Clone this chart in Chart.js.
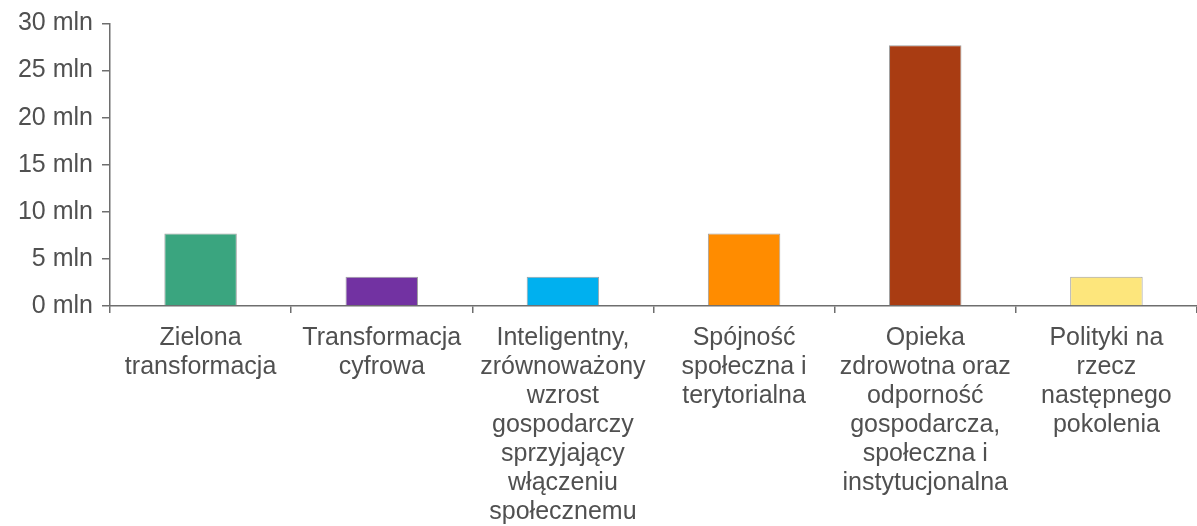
<!DOCTYPE html>
<html>
<head>
<meta charset="utf-8">
<script src="https://cdn.jsdelivr.net/npm/chart.js@4/dist/chart.umd.min.js"></script>
<style>
  html, body { margin: 0; padding: 0; background: #fff; }
  #wrap { width: 1197px; height: 526px; }
</style>
</head>
<body>
<div id="wrap"><canvas id="myChart" width="1197" height="526"></canvas></div>
<script>
// categories, split into lines as in the picture
const categories = [
    ['Zielona', 'transformacja'],
    ['Transformacja', 'cyfrowa'],
    ['Inteligentny,', 'zrównoważony', 'wzrost', 'gospodarczy', 'sprzyjający', 'włączeniu', 'społecznemu'],
    ['Spójność', 'społeczna i', 'terytorialna'],
    ['Opieka', 'zdrowotna oraz', 'odporność', 'gospodarcza,', 'społeczna i', 'instytucjonalna'],
    ['Polityki na', 'rzecz', 'następnego', 'pokolenia']
];
// values in mln
const values = [7.7, 3.1, 3.1, 7.7, 27.7, 3.1];
const barColors = ['#3aa57f', '#7232a2', '#00b0ef', '#ff8c00', '#a93c12', '#fde67c'];
const yTicks = [0, 5, 10, 15, 20, 25, 30];

const textColor = '#505050';
const axisColor = '#6e6e6e';
const font = { family: 'Liberation Sans, Arial, sans-serif', size: 25, lineHeight: 1.16 };

var ctx = document.getElementById('myChart').getContext('2d');

const chart = new Chart(ctx, {
    type: 'bar',
    data: {
        labels: categories,
        datasets: [{
            data: values,
            backgroundColor: barColors,
            borderColor: '#a0a0a0',
            borderWidth: 1,
            barPercentage: 0.4,
            categoryPercentage: 1
        }]
    },
    options: {
        responsive: false,
        animation: false,
        layout: { padding: { top: 22, right: 0, left: 0, bottom: 0 } },
        plugins: {
            legend: { display: false },
            tooltip: { enabled: false }
        },
        scales: {
            x: {
                border: { display: true, color: axisColor, width: 1.5 },
                grid: {
                    display: true,
                    drawOnChartArea: false,
                    drawTicks: true,
                    tickLength: 7,
                    color: axisColor,
                    lineWidth: 1.5,
                    offset: true
                },
                ticks: {
                    color: textColor,
                    font: font,
                    padding: 11,
                    maxRotation: 0,
                    autoSkip: false
                },
                afterFit: (axis) => { axis.height = 220; }
            },
            y: {
                min: 0,
                max: 30,
                afterBuildTicks: (axis) => {
                    axis.ticks = yTicks.map(v => ({ value: v }));
                },
                border: { display: true, color: axisColor, width: 1.5 },
                grid: {
                    display: true,
                    drawOnChartArea: false,
                    drawTicks: true,
                    tickLength: 8,
                    color: axisColor,
                    lineWidth: 1.5
                },
                ticks: {
                    color: textColor,
                    font: font,
                    padding: 9,
                    callback: (v) => v + ' mln'
                },
                afterFit: (axis) => { axis.width = 110; }
            }
        }
    }
});
</script>
</body>
</html>
